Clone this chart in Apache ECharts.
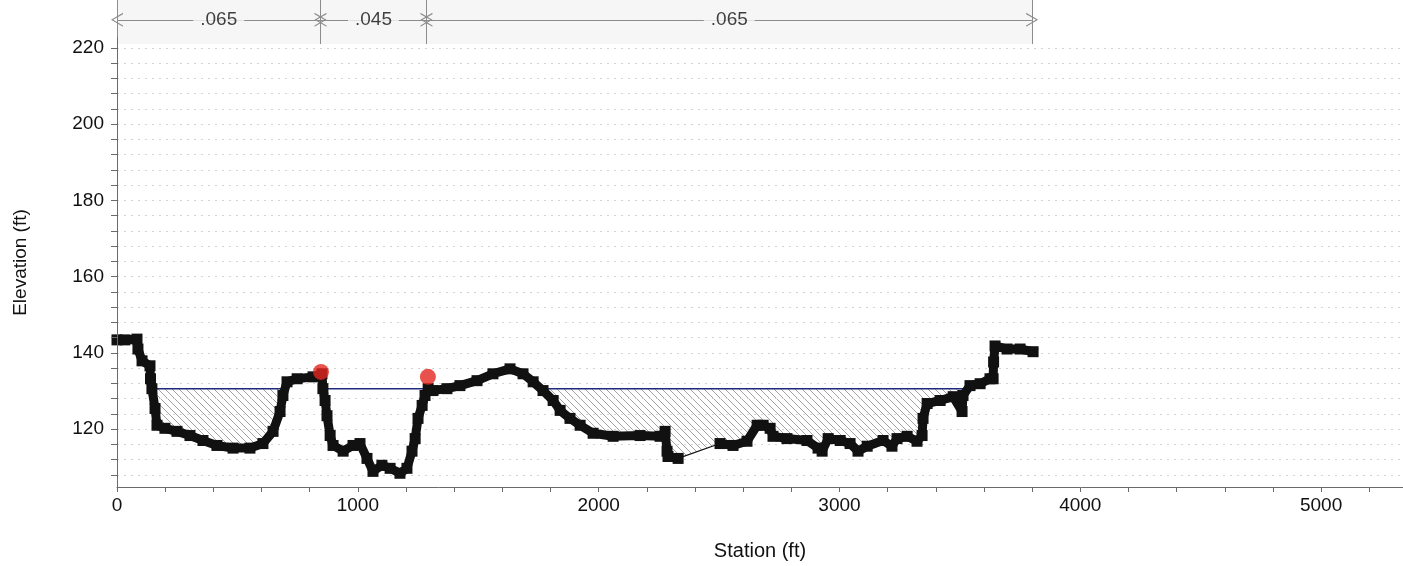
<!DOCTYPE html>
<html>
<head>
<meta charset="utf-8">
<script src="https://cdn.jsdelivr.net/npm/echarts@6/dist/echarts.min.js"></script>
<style>
  html, body { margin: 0; padding: 0; background: #fff; }
  #chart { width: 1403px; height: 566px; }
</style>
</head>
<body>
<div id="chart"></div>
<script>
// ground profile (station ft, elevation ft)
const groundStation = [0, 33, 83, 87, 104, 137, 139, 145, 158, 166, 199, 249, 303, 357, 415, 482, 552, 606, 648, 677,
  689, 706, 748, 814, 851, 855, 864, 872, 885, 897, 939, 980, 1009, 1038, 1063, 1100, 1134, 1175, 1204, 1225,
  1238, 1250, 1267, 1279, 1292, 1312, 1370, 1424, 1495, 1561, 1632, 1686, 1728, 1769, 1811, 1840, 1881, 1923, 1977, 2060,
  2172, 2255, 2276, 2284, 2288, 2330, 2504, 2558, 2616, 2658, 2683, 2712, 2724, 2782, 2865, 2911, 2928, 2953, 3003, 3044,
  3077, 3115, 3181, 3218, 3239, 3281, 3322, 3343, 3347, 3364, 3418, 3472, 3509, 3513, 3542, 3584, 3625, 3638, 3640, 3646,
  3696, 3750, 3804]
const groundElev = [143.4, 143.4, 143.6, 141, 137.9, 136.6, 133.2, 130.6, 125.4, 121, 120.2, 119.4, 118.3, 117, 115.7, 115, 115, 116.2, 119.4, 124.6,
  128.8, 132.4, 133.2, 133.7, 134.5, 130.6, 127.5, 123.5, 118.3, 115.7, 114.2, 115.7, 116.2, 112.3, 108.9, 110.5, 109.7, 108.4, 109.7, 114.2,
  117.5, 122.8, 126.2, 128.8, 130.6, 130.1, 130.6, 131.4, 132.7, 134.5, 135.8, 134.5, 132.4, 130.1, 127.5, 124.9, 122.8, 121, 118.9, 118.1,
  118.3, 118.1, 119.4, 114.2, 112.8, 112.3, 116.2, 115.7, 116.8, 121, 121, 120.2, 118.1, 117.5, 117, 115, 114.2, 117.5, 117, 116.2,
  114.2, 115.5, 117, 115.5, 117.5, 118.1, 116.8, 118.3, 122.8, 126.7, 127.5, 128.5, 124.6, 128.8, 131.4, 131.9, 133.2, 133.2, 137.6, 141.8,
  141, 141, 140.3]
// no survey points between these two stations (thin line only)
const gapFrom = 2330
const gapTo = 2504

// water surface
const waterElev = 130.6
const waterFrom = 145
const waterTo = 3530
// overbank hatched ranges
const hatchLeft = [150, 850]
const hatchRight = [1292, 3515]

// bank stations (red dots)
const bankStation = [847, 1291]
const bankElev = [135.0, 133.7]

// manning's n regions
const nBounds = [0, 845, 1285, 3800]
const nValues = ['.065', '.045', '.065']

// axis ticks
const xTicks = []
for (let v = 0; v <= 5200; v += 200) xTicks.push(v)
const xLabels = [0, 1000, 2000, 3000, 4000, 5000]
const yTicks = []
for (let v = 108; v <= 220; v += 4) yTicks.push(v)
const yLabels = [120, 140, 160, 180, 200, 220]

const fontFamily = 'Liberation Sans, Arial, sans-serif'
const arrowY = 0.55

// hatch pattern
function makeHatch () {
  let c = document.createElement('canvas')
  c.width = 7
  c.height = 7
  let ctx = c.getContext('2d')
  ctx.strokeStyle = '#8a8a8a'
  ctx.lineWidth = 0.8
  ctx.beginPath()
  ctx.moveTo(0, 0); ctx.lineTo(7, 7)
  ctx.moveTo(-1, 6); ctx.lineTo(1, 8)
  ctx.moveTo(6, -1); ctx.lineTo(8, 1)
  ctx.stroke()
  return c
}

let groundData = groundStation.map((s, i) => [s, groundElev[i]])
let thickData = []
for (let i = 0; i < groundStation.length; i++) {
  thickData.push([groundStation[i], groundElev[i]])
  if (groundStation[i] === gapFrom) thickData.push([(gapFrom + gapTo) / 2, '-'])
}
let hatchData = [
  [hatchLeft[0], waterElev], [hatchLeft[1], waterElev],
  [(hatchLeft[1] + hatchRight[0]) / 2, '-'],
  [hatchRight[0], waterElev], [hatchRight[1], waterElev]
]

// n-value arrows on top strip
let nLines = []
let nLabels = []
for (let i = 0; i < nValues.length; i++) {
  nLines.push([
    { coord: [nBounds[i], arrowY] },
    { coord: [nBounds[i + 1], arrowY] }
  ])
  nLabels.push({ value: [(nBounds[i] + nBounds[i + 1]) / 2, arrowY], name: nValues[i] })
}
const chevron = 'path://M6,0 L12,12 L10.8,12 L6,2.2 L1.2,12 L0,12 Z'

let myChart = echarts.init(document.getElementById('chart'))
let option = {
  backgroundColor: '#fff',
  animation: false,
  textStyle: { fontFamily: fontFamily },
  grid: [
    { left: 117, right: 0, top: 38, bottom: 77 },
    { left: 117, right: 0, top: 0, height: 44 }
  ],
  xAxis: [
    {
      type: 'value',
      gridIndex: 0,
      min: 0,
      max: 5340,
      z: 10,
      name: 'Station (ft)',
      nameLocation: 'middle',
      nameGap: 54,
      nameTextStyle: { color: '#111', fontSize: 20, fontFamily: fontFamily },
      axisLine: { lineStyle: { color: '#6a6a6a', width: 1 } },
      axisTick: { show: true, length: 5, customValues: xTicks, lineStyle: { color: '#6a6a6a' } },
      axisLabel: {
        customValues: xLabels,
        formatter: v => String(v),
        color: '#111',
        fontSize: 19,
        margin: 9,
        fontFamily: fontFamily
      },
      splitLine: { show: false }
    },
    {
      type: 'value',
      gridIndex: 1,
      min: 0,
      max: 5340,
      show: false
    }
  ],
  yAxis: [
    {
      type: 'value',
      gridIndex: 0,
      min: 104.8,
      max: 222.6,
      z: 10,
      name: 'Elevation (ft)',
      nameLocation: 'middle',
      nameGap: 87,
      nameRotate: 90,
      nameTextStyle: { color: '#111', fontSize: 19, fontFamily: fontFamily },
      axisLine: { show: true, lineStyle: { color: '#6a6a6a', width: 1 } },
      axisTick: { show: true, length: 6, customValues: yTicks, lineStyle: { color: '#6a6a6a' } },
      axisLabel: {
        customValues: yLabels,
        formatter: v => String(v),
        color: '#111',
        fontSize: 19,
        margin: 13,
        fontFamily: fontFamily
      },
      splitLine: { show: false }
    },
    {
      // faint gridlines only
      type: 'value',
      gridIndex: 0,
      min: 104.8,
      max: 222.6,
      z: 4,
      axisLine: { show: false },
      axisTick: { show: false, customValues: yTicks },
      axisLabel: { show: false, customValues: yTicks },
      splitLine: { show: true, lineStyle: { color: '#d4d4d4', width: 1, type: [2, 5] } }
    },
    {
      type: 'value',
      gridIndex: 1,
      min: 0,
      max: 1,
      show: false
    }
  ],
  series: [
    {
      name: 'hatch',
      type: 'line',
      xAxisIndex: 0,
      yAxisIndex: 0,
      data: hatchData,
      symbol: 'none',
      lineStyle: { width: 0 },
      areaStyle: { color: { image: makeHatch(), repeat: 'repeat' }, opacity: 1 },
      z: 1
    },
    {
      name: 'ws',
      type: 'line',
      xAxisIndex: 0,
      yAxisIndex: 0,
      data: [[waterFrom, waterElev], [waterTo, waterElev]],
      symbol: 'none',
      lineStyle: { color: '#1e2a7a', width: 1.5 },
      z: 2
    },
    {
      name: 'groundFill',
      type: 'line',
      xAxisIndex: 0,
      yAxisIndex: 0,
      data: groundData,
      symbol: 'none',
      lineStyle: { color: '#111', width: 1.2 },
      areaStyle: { color: '#fff', opacity: 1 },
      z: 3
    },
    {
      name: 'ground',
      type: 'line',
      xAxisIndex: 0,
      yAxisIndex: 0,
      data: thickData,
      connectNulls: false,
      symbol: 'rect',
      symbolSize: 11,
      showAllSymbol: true,
      itemStyle: { color: '#111' },
      lineStyle: { color: '#111', width: 9, join: 'round', cap: 'square' },
      z: 5
    },
    {
      name: 'bank',
      type: 'scatter',
      xAxisIndex: 0,
      yAxisIndex: 0,
      data: bankStation.map((s, i) => [s, bankElev[i]]),
      symbol: 'circle',
      symbolSize: 16,
      itemStyle: { color: '#e3261f' },
      z: 6
    },
    {
      name: 'nvalues',
      type: 'line',
      xAxisIndex: 1,
      yAxisIndex: 2,
      data: nBounds.map(s => [s, arrowY]),
      symbol: 'none',
      lineStyle: { width: 0 },
      silent: true,
      markArea: {
        silent: true,
        itemStyle: { color: '#f6f6f6' },
        data: [[{ xAxis: nBounds[0] }, { xAxis: nBounds[nBounds.length - 1] }]]
      },
      markLine: {
        silent: true,
        animation: false,
        symbol: ['none', 'none'],
        lineStyle: { color: '#8c8c8c', width: 1, type: 'solid' },
        label: { show: false },
        data: nBounds.map(s => ({ xAxis: s }))
      }
    },
    {
      name: 'narrows',
      type: 'line',
      xAxisIndex: 1,
      yAxisIndex: 2,
      data: nBounds.map(s => [s, arrowY]),
      symbol: 'none',
      lineStyle: { width: 0 },
      silent: true,
      markLine: {
        silent: true,
        animation: false,
        symbol: [chevron, chevron],
        symbolSize: [14, 12],
        lineStyle: { color: '#8c8c8c', width: 1, type: 'solid' },
        label: { show: false },
        data: nLines
      }
    },
    {
      name: 'nlabels',
      type: 'scatter',
      xAxisIndex: 1,
      yAxisIndex: 2,
      data: nLabels,
      symbolSize: 0,
      silent: true,
      z: 8,
      label: {
        show: true,
        position: 'inside',
        formatter: p => p.name,
        color: '#111',
        fontSize: 19,
        fontFamily: fontFamily,
        backgroundColor: '#f6f6f6',
        padding: [1, 7]
      }
    }
  ]
}
myChart.setOption(option)
</script>
</body>
</html>
